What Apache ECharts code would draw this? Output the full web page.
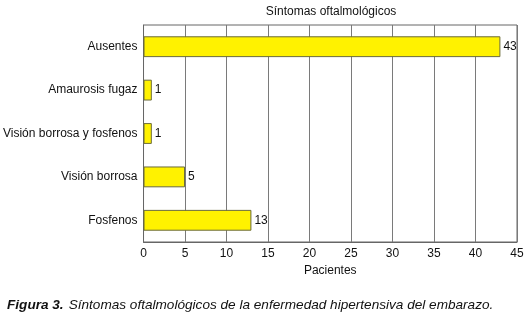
<!DOCTYPE html>
<html><head><meta charset="utf-8">
<script src="https://cdn.jsdelivr.net/npm/echarts@6/dist/echarts.min.js"></script>
<style>html,body{margin:0;padding:0;background:#fff}#c{width:529px;height:315px}</style>
</head><body><div id="c"></div>
<script>
const categories = ["Ausentes", "Amaurosis fugaz", "Visión borrosa y fosfenos", "Visión borrosa", "Fosfenos"];
const values = [43, 1, 1, 5, 13];
const xTicks = [0, 5, 10, 15, 20, 25, 30, 35, 40, 45];
const chart = echarts.init(document.getElementById('c'), null, {renderer: 'canvas'});
const font = '"Liberation Sans", Arial, sans-serif';
chart.setOption({
  animation: false,
  backgroundColor: '#fff',
  textStyle: {fontFamily: font},
  title: [
    {text: 'Síntomas oftalmológicos', left: 326, top: 1, textAlign: 'center',
     textStyle: {fontSize: 12, fontWeight: 'normal', color: '#111', fontFamily: font}},
    {text: '{b|Figura 3.} {i|Síntomas oftalmológicos de la enfermedad hipertensiva del embarazo.}',
     left: 2, top: 291,
     textStyle: {fontWeight: 'normal', rich: {
       b: {fontSize: 13.6, fontWeight: 'bold', fontStyle: 'italic', color: '#111', fontFamily: font},
       i: {fontSize: 13.6, fontWeight: 'normal', fontStyle: 'italic', color: '#111', fontFamily: font}
     }}}
  ],
  grid: {left: 142, right: 12, top: 25, bottom: 73, show: true, borderColor: '#666', borderWidth: 1},
  xAxis: {
    type: 'value', min: xTicks[0], max: xTicks[xTicks.length - 1], interval: 5,
    name: 'Pacientes', nameLocation: 'middle', nameGap: 21,
    nameTextStyle: {fontSize: 12, color: '#111', fontFamily: font},
    axisLine: {show: true, lineStyle: {color: '#666'}},
    axisTick: {show: false},
    axisLabel: {fontSize: 12, color: '#111', margin: 6, fontFamily: font},
    splitLine: {show: true, lineStyle: {color: '#7a7a7a', width: 1}}
  },
  yAxis: {
    type: 'category', data: categories, inverse: true,
    axisLine: {show: true, lineStyle: {color: '#666'}},
    axisTick: {show: false},
    axisLabel: {fontSize: 12, color: '#111', margin: 6, fontFamily: font}
  },
  series: [{
    type: 'bar', data: values, barWidth: '48%',
    itemStyle: {color: '#FFF200', borderColor: '#6b6b3a', borderWidth: 1},
    label: {show: true, position: 'right', distance: 3, fontSize: 12, color: '#111', fontFamily: font}
  }]
});
</script></body></html>
